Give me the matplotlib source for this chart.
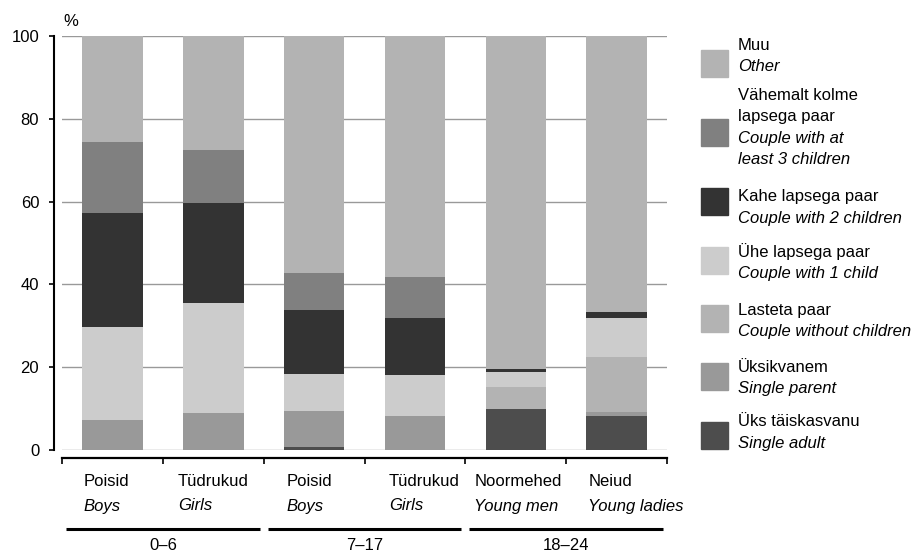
import matplotlib
matplotlib.use("Agg")
import matplotlib.pyplot as plt
import matplotlib.transforms as mtransforms
from matplotlib.patches import Rectangle
import numpy as np

plt.rcParams['font.family'] = ['Liberation Sans', 'DejaVu Sans']

# donnees
categories = ["Poisid", "Tüdrukud", "Poisid", "Tüdrukud", "Noormehed", "Neiud"]
categories_en = ["Boys", "Girls", "Boys", "Girls", "Young men", "Young ladies"]
groups = ["0–6", "7–17", "18–24"]

single_adult = [0, 0, 0.8, 0, 9.9, 8.1]
single_parent = [7.2, 9.0, 8.7, 8.1, 0, 1.1]
no_children = [0, 0, 0, 0, 5.4, 13.3]
one_child = [22.6, 26.6, 8.9, 10.0, 3.6, 9.5]
two_children = [27.5, 24.1, 15.4, 13.9, 0.6, 1.3]
three_plus = [17.1, 12.8, 9.0, 9.9, 0, 0]
other = [25.6, 27.5, 57.2, 58.1, 80.5, 66.7]

series = [single_adult, single_parent, no_children, one_child,
          two_children, three_plus, other]
labels_et = [["Üks täiskasvanu"], ["Üksikvanem"], ["Lasteta paar"],
             ["Ühe lapsega paar"], ["Kahe lapsega paar"],
             ["Vähemalt kolme", "lapsega paar"], ["Muu"]]
labels_en = [["Single adult"], ["Single parent"], ["Couple without children"],
             ["Couple with 1 child"], ["Couple with 2 children"],
             ["Couple with at", "least 3 children"], ["Other"]]
colors = ["#4d4d4d", "#999999", "#b3b3b3", "#cccccc", "#333333", "#808080", "#b3b3b3"]

W, H = 924, 551
fig = plt.figure(figsize=(W / 100, H / 100), dpi=100)
ax = fig.add_axes([62 / W, 1 - 450 / H, (667 - 62) / W, (450 - 36) / H])

x = np.arange(len(categories))
bottom = np.zeros(len(categories))
for vals, col in zip(series, colors):
    ax.bar(x, vals, width=0.6, bottom=bottom, color=col, zorder=3)
    bottom += np.array(vals)

ax.set_xlim(-0.5, 5.5)
ax.set_ylim(0, 100)
ax.set_yticks([0, 20, 40, 60, 80, 100])
ax.yaxis.grid(True, color="#999999", linewidth=1.0)
ax.set_axisbelow(True)
for gl in ax.get_ygridlines():
    gl.set_clip_on(False)
ax.get_ygridlines()[0].set_color("#bbbbbb")

# axes
ax.spines["top"].set_visible(False)
ax.spines["right"].set_visible(False)
ax.spines["left"].set_position(("outward", 5.8))
ax.spines["left"].set_linewidth(1.5)
ax.spines["bottom"].set_position(("outward", 5.8))
ax.spines["bottom"].set_linewidth(1.6)
ax.tick_params(axis="y", direction="out", length=3.6, width=1.2, pad=7, labelsize=12)
ax.set_xticks(np.arange(-0.5, 6, 1))
ax.tick_params(axis="x", direction="out", length=4.5, width=1.2, labelbottom=False)

fig.text(71 / W, 1 - 22 / H, "%", ha="center", va="center", fontsize=12)

# etiquettes des categories
trans = mtransforms.blended_transform_factory(ax.transData, fig.transFigure)
label_offsets = [-0.29, -0.35, -0.27, -0.26, -0.41, -0.28]
for i in range(len(categories)):
    ax.text(i + label_offsets[i], 1 - 482 / H, categories[i], transform=trans,
            ha="left", va="center", fontsize=12)
    ax.text(i + label_offsets[i], 1 - 506 / H, categories_en[i], transform=trans,
            ha="left", va="center", fontsize=12, style="italic")

# groupes d'age
for g in range(len(groups)):
    x0 = 2 * g - 0.5
    ax.plot([x0 + 0.04, x0 + 1.96], [1 - 529 / H] * 2, transform=trans,
            color="black", linewidth=2.2, clip_on=False, solid_capstyle="butt")
    ax.text(x0 + 1.0, 1 - 545 / H, groups[g], transform=trans,
            ha="center", va="center", fontsize=12)

# legende
sq_tops = [422, 363, 305, 247, 188, 119, 50]
text_tops = [422, 367, 310, 252, 197, 95, 45]
step = 21.5
for k in range(len(series)):
    fig.add_artist(Rectangle((701 / W, 1 - (sq_tops[k] + 27) / H), 27 / W, 27 / H,
                             transform=fig.transFigure, color=colors[k]))
    y = text_tops[k]
    for line in labels_et[k]:
        fig.text(738 / W, 1 - y / H, line, ha="left", va="center", fontsize=12)
        y += step
    for line in labels_en[k]:
        fig.text(738 / W, 1 - y / H, line, ha="left", va="center", fontsize=12,
                 style="italic")
        y += step

plt.savefig("out.png", dpi=100)
plt.close()
